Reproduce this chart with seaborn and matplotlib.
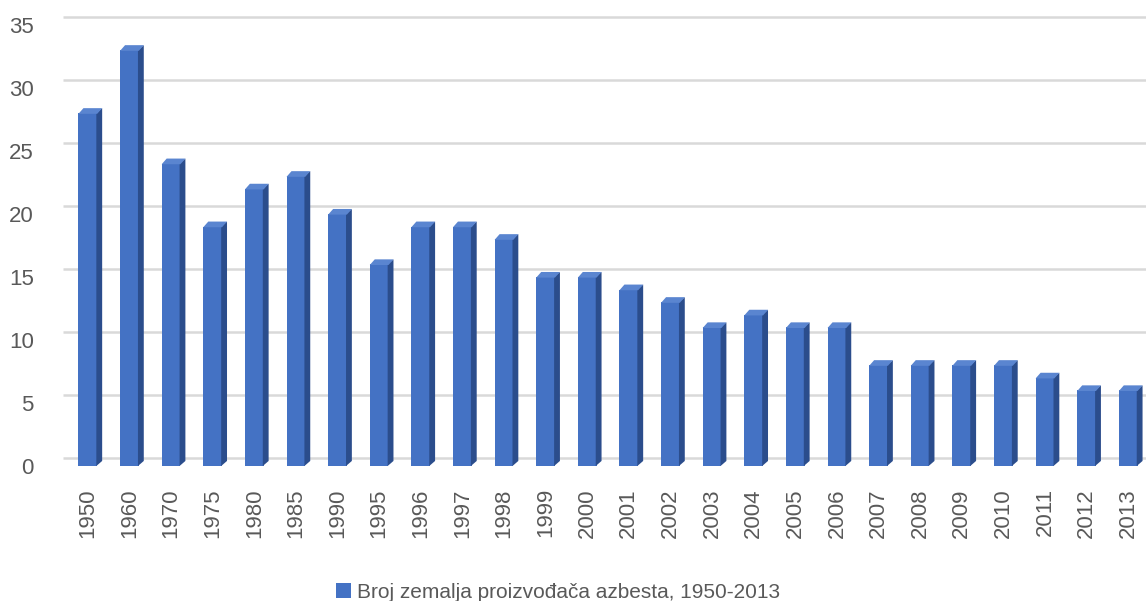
import matplotlib
matplotlib.use("Agg")
import matplotlib.pyplot as plt
import seaborn as sns
import pandas as pd
import numpy as np
from matplotlib.patches import Polygon, Patch

years = ["1950", "1960", "1970", "1975", "1980", "1985", "1990", "1995", "1996",
         "1997", "1998", "1999", "2000", "2001", "2002", "2003", "2004", "2005",
         "2006", "2007", "2008", "2009", "2010", "2011", "2012", "2013"]
counts = [28, 33, 24, 19, 22, 23, 20, 16, 19, 19, 18, 15, 15, 14, 13, 11, 12, 11,
          11, 8, 8, 8, 8, 7, 6, 6]
yticks = [0, 5, 10, 15, 20, 25, 30, 35]
series_label = "Broj zemalja proizvođača azbesta, 1950-2013"

FRONT = "#4472C4"
SIDE = "#2B4D8C"
TOP = "#5A85D0"
TEXT = "#595959"
GRID = "#D9D9D9"

sns.set_theme(style="white")
plt.rcParams["font.family"] = ["Liberation Sans", "DejaVu Sans"]

df = pd.DataFrame({"year": years, "count": counts})

fig = plt.figure(figsize=(11.46, 6.01), dpi=100)
ax = fig.add_axes([67 / 1146, 135 / 601, 1082 / 1146, 441 / 601])

sns.barplot(data=df, x="year", y="count", color=FRONT, saturation=1, width=0.45,
            linewidth=0, ax=ax, zorder=3)

# pseudo-3D faces derived from each bar's geometry
dx, dy = 0.12, 0.4
for p in ax.patches:
    x0 = p.get_x()
    x1 = x0 + p.get_width()
    h = p.get_height()
    side = Polygon([(x1 - 0.02, 0), (x1 + dx, dy), (x1 + dx, h + dy), (x1 - 0.02, h)],
                   closed=True, facecolor=SIDE, edgecolor="none", zorder=3)
    top = Polygon([(x0, h - 0.05), (x1, h - 0.05), (x1 + dx, h + dy), (x0 + dx, h + dy)],
                  closed=True, facecolor=TOP, edgecolor="none", zorder=3)
    ax.add_patch(side)
    ax.add_patch(top)

ax.set_xlim(-0.5, len(years) - 0.5)
ax.set_ylim(0, 35)
ax.set_yticks(yticks)
ax.set_yticklabels([str(v) for v in yticks])
# back-wall gridlines sit slightly behind (above) the value level
ax.hlines(np.array(yticks) + 0.6, -0.6, len(years) - 0.5, colors=GRID,
          linewidth=1.8, zorder=0, clip_on=False)
ax.grid(False)
for s in ax.spines.values():
    s.set_visible(False)

ax.set_xlabel("")
ax.set_ylabel("")
ax.tick_params(axis="y", length=0, pad=24, labelsize=16, labelcolor=TEXT)
ax.tick_params(axis="x", length=0, pad=16, labelsize=16, labelcolor=TEXT)
for lab in ax.get_xticklabels():
    lab.set_rotation(90)
    lab.set_va("top")
    lab.set_ha("center")

handle = Patch(facecolor=FRONT, edgecolor="none")
fig.legend([handle], [series_label], loc="center",
           bbox_to_anchor=(558 / 1146, 1 - 592 / 601), frameon=False,
           fontsize=15, labelcolor=TEXT, handlelength=0.75, handleheight=0.75,
           handletextpad=0.3)

fig.savefig("out.png", dpi=100)
